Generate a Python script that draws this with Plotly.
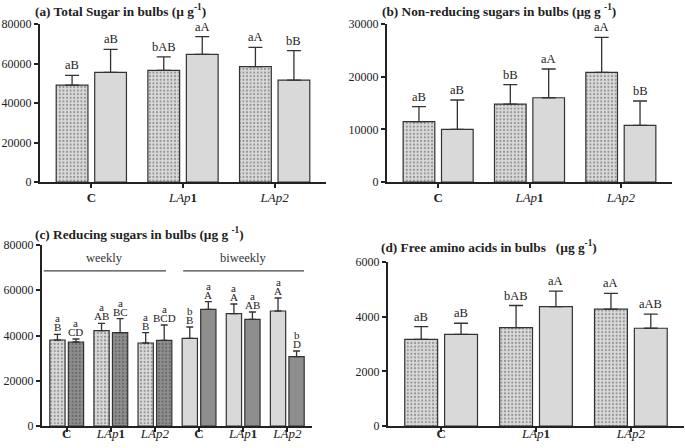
import plotly.graph_objects as go

W, H = 685, 448
FONT = "Liberation Serif"

# ---------------- data ----------------
groups3 = ["<b>C</b>", "<i>LAp</i><b>1</b>", "<i>LAp2</i>"]
groups6 = groups3 + groups3

a_first = [49100, 56500, 58400]
a_first_err = [4900, 6900, 9800]
a_second = [55500, 64600, 51600]
a_second_err = [11700, 9000, 14900]
a_first_lbl = ["aB", "bAB", "aA"]
a_second_lbl = ["aB", "aA", "bB"]

b_first = [11450, 14800, 20830]
b_first_err = [2850, 3680, 6640]
b_second = [10000, 16000, 10760]
b_second_err = [5570, 5460, 4620]
b_first_lbl = ["aB", "bB", "aA"]
b_second_lbl = ["aB", "aA", "bB"]

c_light = [38010, 42140, 36690, 38750, 49650, 50830]
c_light_err = [2510, 3240, 4560, 5010, 4270, 5740]
c_dark = [37130, 41250, 37860, 51570, 47140, 30640]
c_dark_err = [1320, 6190, 6780, 3380, 3250, 2510]
c_light_up = ["a", "a", "a", "b", "a", "a"]
c_light_lo = ["B", "AB", "B", "B", "A", "A"]
c_dark_up = ["a", "a", "a", "a", "a", "b"]
c_dark_lo = ["CD", "BC", "BCD", "A", "AB", "D"]
c_periods = ["weekly", "biweekly"]
c_period_span = [(-0.52, 2.25), (2.64, 5.38)]
c_period_line_y = 68600
c_period_text_y = 70300

d_first = [3171, 3600, 4273]
d_first_err = [466, 808, 576]
d_second = [3355, 4371, 3576]
d_second_err = [404, 564, 514]
d_first_lbl = ["aB", "bAB", "aA"]
d_second_lbl = ["aB", "aA", "aAB"]

titles = [
    "(a) Total Sugar in bulbs (\u00b5 g<sup>-1</sup>)",
    "(b) Non-reducing sugars in bulbs (\u00b5g g <sup>-1</sup>)",
    "(c) Reducing sugars in bulbs (\u00b5g g <sup>-1</sup>)",
    "(d) Free amino acids in bulbs &nbsp;&nbsp;(\u00b5g g<sup>-1</sup>)",
]

# ---------------- style ----------------
LIGHT = "#d9d9d9"
DARK = "#8e8e8e"
EDGE = "#333333"
BARGAP = 0.16
GROUPGAP = 0.175
OFF = (1 - BARGAP) / 4

fig = go.Figure()


def bars(x, y, err, color, shapes, axis, capw, fg="#444444"):
    fig.add_trace(go.Bar(
        x=x, y=y,
        xaxis="x" + axis, yaxis="y" + axis,
        marker=dict(color=color, line=dict(color=EDGE, width=1.2),
                    pattern=dict(shape=shapes, fillmode="overlay",
                                 fgcolor=fg, bgcolor=color,
                                 size=3.6, solidity=0.25)),
        error_y=dict(type="data", array=err, arrayminus=[0] * len(err),
                     symmetric=False, color=EDGE, thickness=1.3, width=capw),
        showlegend=False,
        hoverinfo="skip",
    ))


x3 = list(range(3))
x6 = list(range(6))

bars(x3, a_first, a_first_err, LIGHT, ".", "", 7)
bars(x3, a_second, a_second_err, LIGHT, "", "", 7)
bars(x3, b_first, b_first_err, LIGHT, ".", "2", 7)
bars(x3, b_second, b_second_err, LIGHT, "", "2", 7)
bars(x6, c_light, c_light_err, LIGHT, [".", ".", ".", "", "", ""], "3", 3.5)
bars(x6, c_dark, c_dark_err, DARK, [".", ".", ".", "", "", ""], "3", 3.5, fg="#3a3a3a")
bars(x3, d_first, d_first_err, LIGHT, ".", "4", 7)
bars(x3, d_second, d_second_err, LIGHT, "", "4", 7)

annots = []


def letters(xs, ys, errs, texts, axis, sign, size=12.5, shift=1):
    for xi, yi, ei, t in zip(xs, ys, errs, texts):
        annots.append(dict(x=xi + sign * OFF, y=yi + ei, text=t,
                           xref="x" + axis, yref="y" + axis,
                           showarrow=False, yanchor="bottom", yshift=shift,
                           font=dict(family=FONT, size=size, color="#222")))


letters(x3, a_first, a_first_err, a_first_lbl, "", -1)
letters(x3, a_second, a_second_err, a_second_lbl, "", 1)
letters(x3, b_first, b_first_err, b_first_lbl, "2", -1)
letters(x3, b_second, b_second_err, b_second_lbl, "2", 1)
letters(x3, d_first, d_first_err, d_first_lbl, "4", -1)
letters(x3, d_second, d_second_err, d_second_lbl, "4", 1)
letters(x6, c_light, c_light_err, c_light_lo, "3", -1, size=11, shift=-1)
letters(x6, c_light, c_light_err, c_light_up, "3", -1, size=11, shift=8)
letters(x6, c_dark, c_dark_err, c_dark_lo, "3", 1, size=11, shift=-1)
letters(x6, c_dark, c_dark_err, c_dark_up, "3", 1, size=11, shift=8)

shapes = []
for name, (x0, x1) in zip(c_periods, c_period_span):
    shapes.append(dict(type="line", xref="x3", yref="y3", x0=x0, x1=x1,
                       y0=c_period_line_y, y1=c_period_line_y,
                       line=dict(color="#444", width=1.2)))
    annots.append(dict(x=(x0 + x1) / 2, y=c_period_text_y, text=name,
                       xref="x3", yref="y3", showarrow=False, yanchor="bottom",
                       font=dict(family=FONT, size=12.5, color="#333")))

title_pos = [(33, 11), (380, 11), (33, 233), (379, 246)]
for t, (px, py) in zip(titles, title_pos):
    annots.append(dict(x=px / W, y=1 - py / H, xref="paper", yref="paper",
                       text="<b>" + t + "</b>", showarrow=False,
                       xanchor="left", yanchor="middle",
                       font=dict(family=FONT, size=13.3, color="#222")))

# ---------------- axes ----------------
def xax(x0, x1, anchor, n, labels, standoff):
    return dict(domain=[x0 / W, x1 / W], anchor=anchor, automargin=False,
                range=[-0.56, n - 1 + 0.56], tickvals=list(range(n)),
                ticktext=labels, showline=True, linecolor="#222", linewidth=2,
                ticks="outside", ticklen=4, tickcolor="#222", tickwidth=1.5,
                ticklabelstandoff=standoff,
                showgrid=False, zeroline=False, fixedrange=True,
                tickfont=dict(family=FONT, size=13, color="#222"))


def yax(ytop, ybot, anchor, top, step):
    return dict(domain=[1 - ybot / H, 1 - ytop / H], anchor=anchor,
                automargin=False,
                range=[0, top], tickvals=list(range(0, top + 1, step)),
                tickformat="d", fixedrange=True,
                showline=True, linecolor="#222", linewidth=2,
                ticks="outside", ticklen=4, tickcolor="#222", tickwidth=1.5,
                showgrid=False, zeroline=False,
                tickfont=dict(family=FONT, size=12, color="#222"))


fig.update_layout(
    width=W, height=H,
    margin=dict(l=0, r=0, t=0, b=0, autoexpand=False),
    paper_bgcolor="white", plot_bgcolor="white",
    barmode="group", bargap=BARGAP, bargroupgap=GROUPGAP,
    xaxis=xax(40, 326, "y", 3, groups3, -2),
    yaxis=yax(24, 182, "x", 80000, 20000),
    xaxis2=xax(387, 672, "y2", 3, groups3, -2),
    yaxis2=yax(24, 182, "x2", 30000, 10000),
    xaxis3=xax(42, 312, "y3", 6, groups6, -10),
    yaxis3=yax(245, 426, "x3", 80000, 20000),
    xaxis4=xax(388, 684, "y4", 3, groups3, -10),
    yaxis4=yax(262, 426, "x4", 6000, 2000),
    annotations=annots, shapes=shapes,
    font=dict(family=FONT),
)

fig.write_html("out.html",
               config={"displayModeBar": False},
               post_script="document.body.style.margin='0';"
                           "document.body.style.overflow='hidden';")
